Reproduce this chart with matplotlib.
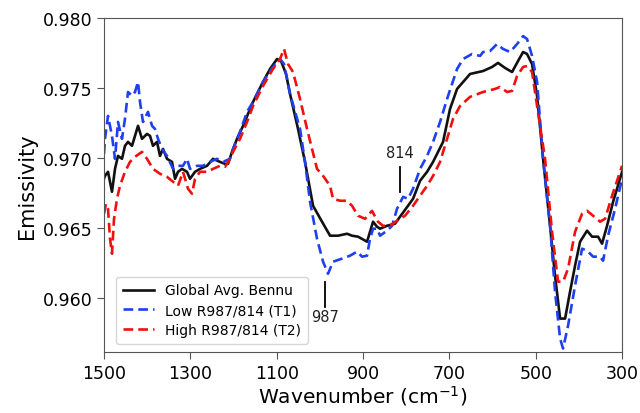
import matplotlib
matplotlib.use("Agg")
import matplotlib.pyplot as plt

wn_global = [1500, 1497.7, 1490.7, 1481.5, 1474.5, 1467.6, 1458.3, 1451.4, 1444.4, 1435.1, 1428.2, 1421.2,
             1412.0, 1400.4, 1393.4, 1386.5, 1377.2, 1370.3, 1363.3, 1354.1, 1342.5, 1335.5, 1328.6, 1319.3,
             1307.7, 1300.8, 1289.2, 1277.6, 1261.4, 1247.5, 1231.3, 1219.7, 1212.7, 1203.5, 1191.9, 1177.9,
             1154.8, 1131.7, 1115.4, 1099.2, 1090.0, 1078.4, 1069.1, 1050.6, 1034.4, 1015.8, 995.0, 976.4,
             957.9, 937.1, 925.5, 911.6, 890.7, 876.8, 867.6, 860.6, 844.4, 825.9, 814.3, 795.8, 784.2,
             767.9, 751.7, 737.8, 714.7, 698.5, 682.2, 652.1, 622.0, 601.1, 587.3, 571.0, 554.8, 540.9,
             529.3, 520.1, 508.5, 496.9, 483.0, 466.8, 455.3, 443.6, 432.0, 420.5, 408.9, 397.3, 381.1,
             369.5, 355.6, 346.4, 334.8, 320.8, 300]
em_global = [0.96850, 0.96871, 0.96900, 0.96757, 0.96921, 0.97014, 0.96993, 0.97086, 0.97114, 0.97086,
             0.97157, 0.97229, 0.97136, 0.97171, 0.97157, 0.97086, 0.97114, 0.97014, 0.97064, 0.96993,
             0.96971, 0.96850, 0.96900, 0.96921, 0.96900, 0.96850, 0.96900, 0.96921, 0.96943, 0.96993,
             0.96971, 0.96957, 0.96957, 0.97043, 0.97136, 0.97229, 0.97400, 0.97543, 0.97636, 0.97707,
             0.97693, 0.97600, 0.97457, 0.97207, 0.96971, 0.96657, 0.96543, 0.96443, 0.96443, 0.96457,
             0.96443, 0.96436, 0.96400, 0.96543, 0.96507, 0.96493, 0.96514, 0.96529, 0.96579, 0.96657,
             0.96707, 0.96836, 0.96900, 0.96971, 0.97114, 0.97350, 0.97493, 0.97600, 0.97621, 0.97650,
             0.97679, 0.97643, 0.97614, 0.97693, 0.97757, 0.97743, 0.97671, 0.97443, 0.96993, 0.96514,
             0.96157, 0.95850, 0.95850, 0.96043, 0.96229, 0.96400, 0.96479, 0.96436, 0.96436, 0.96386,
             0.96514, 0.96686, 0.96900]

wn_low = [1500, 1497.7, 1490.7, 1481.5, 1474.5, 1467.6, 1458.3, 1451.4, 1444.4, 1435.1, 1428.2, 1421.2,
          1416.6, 1409.7, 1398.1, 1388.8, 1381.9, 1374.9, 1365.6, 1354.1, 1340.1, 1328.6, 1317.0, 1307.7,
          1300.8, 1284.5, 1270.7, 1254.4, 1238.2, 1224.3, 1208.1, 1201.1, 1184.9, 1168.7, 1154.8, 1131.7,
          1108.5, 1092.3, 1083.0, 1069.1, 1045.9, 1034.4, 1022.8, 1006.6, 992.6, 981.1, 969.5, 948.6,
          930.1, 913.9, 902.3, 890.7, 883.8, 876.8, 867.6, 860.6, 844.4, 832.8, 821.2, 807.3, 795.8,
          784.2, 767.9, 751.7, 737.8, 721.6, 703.1, 682.2, 668.3, 647.5, 628.9, 622.0, 605.8, 589.6,
          575.7, 559.5, 543.2, 529.3, 520.1, 508.5, 496.9, 483.0, 466.8, 455.3, 443.6, 436.7, 425.1,
          408.9, 392.7, 381.1, 367.2, 351.0, 344.0, 332.4, 316.2, 300]
em_low = [0.97029, 0.97136, 0.97300, 0.97157, 0.96993, 0.97257, 0.97136, 0.97279, 0.97471, 0.97443,
          0.97471, 0.97543, 0.97400, 0.97257, 0.97329, 0.97229, 0.97207, 0.97136, 0.97064, 0.97014,
          0.96921, 0.96943, 0.96943, 0.96993, 0.96921, 0.96943, 0.96943, 0.96971, 0.96993, 0.96971,
          0.96993, 0.97064, 0.97186, 0.97329, 0.97400, 0.97543, 0.97650, 0.97707, 0.97671, 0.97457,
          0.97207, 0.96971, 0.96686, 0.96421, 0.96257, 0.96171, 0.96257, 0.96279, 0.96300, 0.96329,
          0.96293, 0.96300, 0.96421, 0.96493, 0.96493, 0.96443, 0.96479, 0.96514, 0.96636, 0.96721,
          0.96707, 0.96779, 0.96921, 0.97014, 0.97114, 0.97257, 0.97443, 0.97636, 0.97707, 0.97743,
          0.97729, 0.97757, 0.97764, 0.97814, 0.97779, 0.97757, 0.97814, 0.97871, 0.97850, 0.97729,
          0.97543, 0.96993, 0.96514, 0.96043, 0.95707, 0.95636, 0.95800, 0.96086, 0.96350, 0.96336,
          0.96293, 0.96293, 0.96264, 0.96443, 0.96636, 0.96850]

wn_high = [1500, 1495.4, 1490.7, 1486.1, 1481.5, 1476.8, 1469.9, 1463.0, 1451.4, 1439.8, 1428.2, 1412.0,
           1400.4, 1386.5, 1370.3, 1354.1, 1340.1, 1328.6, 1317.0, 1305.4, 1296.1, 1289.2, 1277.6, 1261.4,
           1247.5, 1231.3, 1219.7, 1208.1, 1201.1, 1184.9, 1168.7, 1154.8, 1131.7, 1108.5, 1092.3, 1083.0,
           1073.8, 1062.2, 1045.9, 1029.7, 1018.2, 1006.6, 992.6, 976.4, 969.5, 953.3, 937.1, 925.5,
           911.6, 895.4, 879.2, 872.2, 865.3, 853.7, 837.5, 821.2, 802.7, 784.2, 767.9, 751.7, 737.8,
           721.6, 705.4, 691.5, 675.3, 652.1, 622.0, 594.2, 582.6, 566.4, 554.8, 543.2, 529.3, 520.1,
           508.5, 496.9, 478.4, 462.2, 448.3, 436.7, 425.1, 408.9, 392.7, 381.1, 367.2, 351.0, 339.4,
           323.2, 300]
em_high = [0.96600, 0.96671, 0.96636, 0.96421, 0.96314, 0.96564, 0.96707, 0.96800, 0.96900, 0.96971,
           0.97007, 0.97043, 0.96993, 0.96921, 0.96886, 0.96864, 0.96829, 0.96800, 0.96900, 0.96779,
           0.96743, 0.96850, 0.96900, 0.96900, 0.96921, 0.96943, 0.96936, 0.96993, 0.97043, 0.97136,
           0.97257, 0.97371, 0.97514, 0.97636, 0.97707, 0.97779, 0.97671, 0.97614, 0.97421, 0.97207,
           0.97064, 0.96921, 0.96871, 0.96800, 0.96707, 0.96693, 0.96693, 0.96657, 0.96586, 0.96564,
           0.96621, 0.96579, 0.96543, 0.96514, 0.96514, 0.96550, 0.96586, 0.96657, 0.96729, 0.96800,
           0.96871, 0.96971, 0.97136, 0.97279, 0.97371, 0.97436, 0.97471, 0.97493, 0.97507, 0.97471,
           0.97479, 0.97586, 0.97650, 0.97657, 0.97614, 0.97371, 0.96993, 0.96471, 0.96114, 0.96114,
           0.96207, 0.96471, 0.96600, 0.96621, 0.96586, 0.96543, 0.96564, 0.96729, 0.96943]

labels = ["Global Avg. Bennu", "Low R987/814 (T1)", "High R987/814 (T2)"]
x_ticks = [1500, 1300, 1100, 900, 700, 500, 300]
y_ticks = [0.960, 0.965, 0.970, 0.975, 0.980]
ann_814 = 814
ann_987 = 987

fig = plt.figure(figsize=(6.4, 4.14), dpi=100)
ax = fig.add_axes([0.1625, 0.147, 0.8095, 0.807])

ax.plot(wn_global, em_global, color="#111111", lw=1.9, label=labels[0])
ax.plot(wn_low, em_low, color="#1f3ff0", lw=1.9, ls=(0, (3.7, 1.9)), label=labels[1])
ax.plot(wn_high, em_high, color="#f01010", lw=1.9, ls=(0, (3.7, 1.9)), label=labels[2])

ax.plot([ann_814, ann_814], [0.96757, 0.96936], color="black", lw=1.3)
ax.text(ann_814, 0.97035, str(ann_814), ha="center", va="center", fontsize=10.5, color="#222222")
ax.plot([ann_987, ann_987], [0.95936, 0.96114], color="black", lw=1.3)
ax.text(ann_987, 0.95862, str(ann_987), ha="center", va="center", fontsize=10.5, color="#222222")

ax.set_xlim(1500, 300)
ax.set_ylim(0.9561, 0.980)
ax.set_xticks(x_ticks)
ax.set_yticks(y_ticks)
ax.set_yticklabels([f"{v:.3f}" for v in y_ticks])
ax.tick_params(labelsize=12.5, direction="out", length=5, color="#555555")
for s in ax.spines.values():
    s.set_color("#555555")
ax.set_xlabel("Wavenumber (cm$^{-1}$)", fontsize=14.5, labelpad=1)
ax.set_ylabel("Emissivity", fontsize=15)

leg = ax.legend(loc="lower left", fontsize=10, frameon=True, handlelength=2.2,
                borderpad=0.5, labelspacing=0.4, bbox_to_anchor=(0.01, 0.005))
leg.get_frame().set_edgecolor("#cccccc")

fig.savefig("out.png", dpi=100)
